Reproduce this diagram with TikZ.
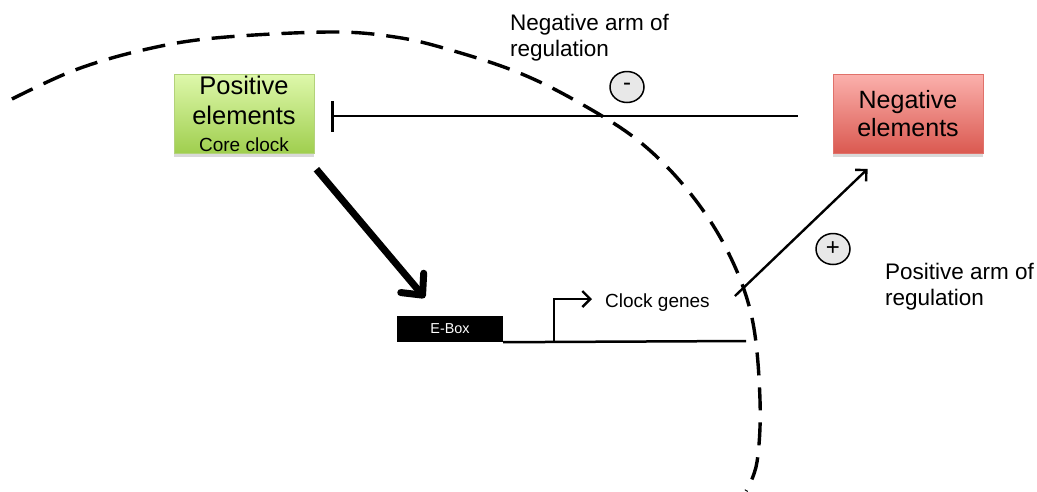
\documentclass[tikz,border=0pt]{standalone}
\usepackage{fontspec}
\setmainfont{Liberation Sans}
\usetikzlibrary{arrows.meta,shadows,shapes.geometric}

\definecolor{posTop}{HTML}{DEF8AB}
\definecolor{posBottom}{HTML}{9FCE4E}
\definecolor{posLine}{HTML}{B3D27A}
\definecolor{negTop}{HTML}{FBB0AC}
\definecolor{negBottom}{HTML}{DA5950}
\definecolor{negLine}{HTML}{E0716A}

\begin{document}
\begin{tikzpicture}[x=1pt,y=-1pt,
		box/.style={draw, line width=0.8pt, align=center, inner sep=2pt, drop shadow={shadow xshift=0pt, shadow yshift=-3pt, opacity=0.3}},
		sign/.style={ellipse, draw, line width=1.5pt, fill=gray!18, minimum width=34pt, minimum height=31pt, inner sep=0pt, font=\fontsize{24}{24}\selectfont},
		armlabel/.style={anchor=north west, align=left, inner sep=0pt, font=\fontsize{22.5}{26}\selectfont},
		chevron/.style={line width=2.4pt, -{Straight Barb[length=8pt, width=16pt]}}]
			\useasboundingbox (0,0) rectangle (1037,491);

			\draw[line width=3.4pt, dash pattern=on 23pt off 12pt] plot[smooth, tension=0.6] coordinates {(12,99) (75,70) (143,50) (215,38) (330,32) (395,37) (447,49) (517,72) (578,102) (640,142) (690,193) (728,252) (752,318) (760,400) (757,462) (746,491)};

			\node[box, minimum width=140pt, minimum height=78pt, top color=posTop, bottom color=posBottom, draw=posLine, font=\fontsize{25.5}{30}\selectfont] (pos) at (244,114) {Positive\\elements\\[-3pt]{\fontsize{19}{22}\selectfont Core clock}};
			\node[box, minimum width=150pt, minimum height=79pt, top color=negTop, bottom color=negBottom, draw=negLine, font=\fontsize{25}{28}\selectfont] (neg) at (908,114) {Negative\\elements};

			\node[fill=black, minimum width=106pt, minimum height=26pt, inner sep=0pt, text=white, font=\fontsize{14.4}{14.4}\selectfont] (ebox) at (450,329) {E-Box};
			\node[anchor=west, inner sep=0pt, font=\fontsize{19}{19}\selectfont] (genes) at (605,303) {Clock genes};
			\coordinate (tss) at (554,341);
			\coordinate (geneend) at (746,341);

			\node[sign] (minus) at (627,87) {-};
			\node[sign] (plus) at (833,249) {+};
			\node[armlabel] (negarm) at (510,14) {Negative arm of\\regulation};
			\node[armlabel] (posarm) at (885,263) {Positive arm of\\regulation};

			\draw[line width=2.4pt, -{Bar[width=31pt, line width=3pt]}, shorten <=35pt, shorten >=17pt] ([yshift=-2pt]neg.west) -- ([yshift=-2pt]pos.east);
			\draw[line width=7pt, -{Straight Barb[length=16pt, width=30pt, round]}] ([shift={(2pt,-15pt)}]pos.south east) -- ([shift={(28pt,18pt)}]ebox.north west);
			\draw[line width=2.5pt] (ebox.south east) -- (geneend);
			\draw[chevron, shorten >=13pt] (tss) |- ([yshift=4pt]genes.west);
			\draw[chevron] ([shift={(25pt,7pt)}]genes.east) -- ([shift={(35pt,-15pt)}]neg.south west);
		\end{tikzpicture}
\end{document}
